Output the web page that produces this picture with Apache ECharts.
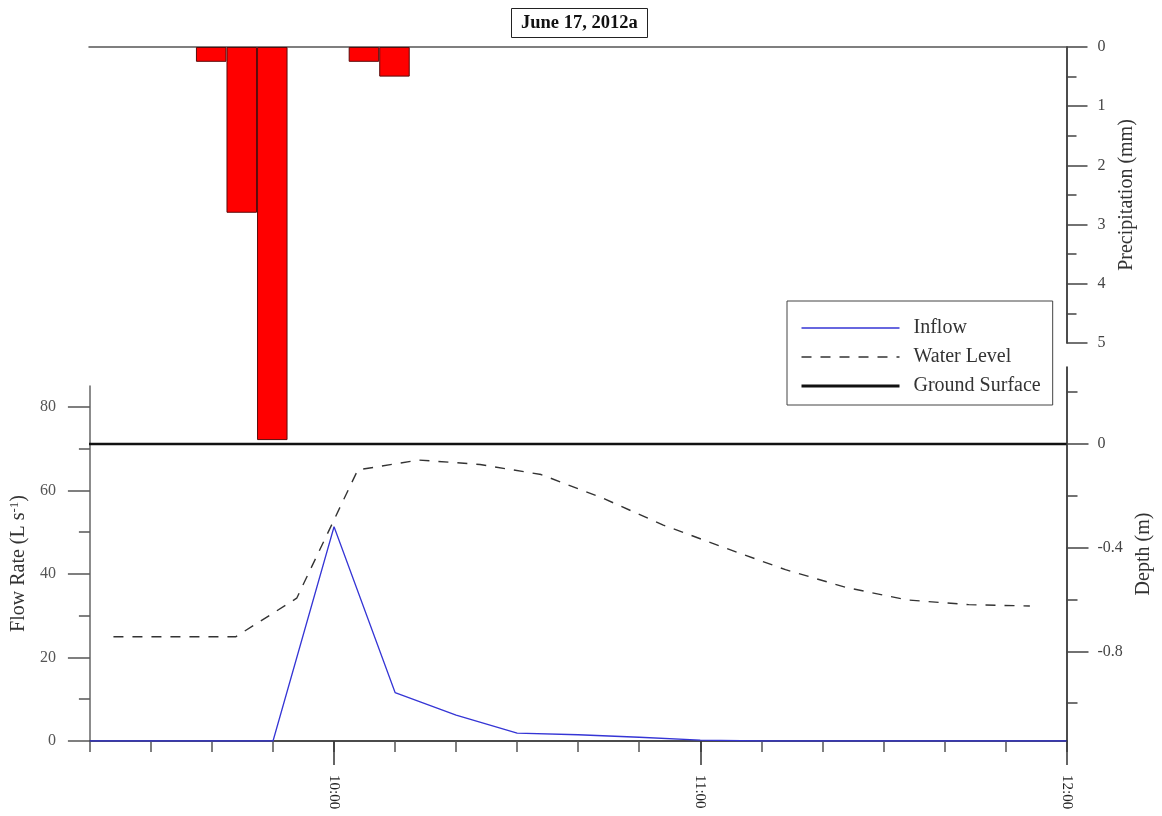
<!DOCTYPE html>
<html>
<head>
<meta charset="utf-8">
<script src="https://cdn.jsdelivr.net/npm/echarts@6/dist/echarts.min.js"></script>
<style>
html,body{margin:0;padding:0;background:#fff;}
#chart{width:1162px;height:816px;}
</style>
</head>
<body>
<div id="chart"></div>
<script>
// ---- data ----
const titleText = 'June 17, 2012a';
const precipTimes = ['9:40', '9:45', '9:50', '10:05', '10:10'];
const precipValues = [0.25, 2.8, 6.64, 0.25, 0.5];

const inflowTimes = ['9:20','9:30','9:40','9:50','10:00','10:10','10:20','10:30','10:40','10:50','11:00','11:10','11:20','11:30','11:40','11:50','12:00'];
const inflowValues = [0, 0, 0, 0, 51.3, 11.6, 6.2, 1.9, 1.5, 0.9, 0.2, 0, 0, 0, 0, 0, 0];

const waterTimes = ['9:24','9:34','9:44','9:54','10:04','10:14','10:24','10:34','10:44','10:54','11:04','11:14','11:24','11:34','11:44','11:54'];
const waterValues = [-0.744, -0.744, -0.744, -0.595, -0.100, -0.062, -0.079, -0.118, -0.208, -0.313, -0.400, -0.485, -0.554, -0.602, -0.620, -0.625];

const groundTimes = ['9:20', '12:00'];
const groundValues = [0, 0];

const xMajorTicks = ['10:00', '11:00', '12:00'];
const xMinorTicks = ['9:20','9:30','9:40','9:50','10:00','10:10','10:20','10:30','10:40','10:50','11:00','11:10','11:20','11:30','11:40','11:50','12:00'];
const xRange = ['9:20', '12:00'];

const precipMajor = [0, 1, 2, 3, 4, 5];
const precipMinor = [0.5, 1.5, 2.5, 3.5, 4.5];
const precipRange = [0, 5];

const flowMajor = [0, 20, 40, 60, 80];
const flowMinor = [10, 30, 50, 70];
const flowRange = [0, 85];

const depthMajor = [0, -0.4, -0.8];
const depthMinor = [0.2, -0.2, -0.6, -1.0];
const depthRange = [-1.146, 0.297];

// ---- helpers ----
function toMin(s) { const p = s.split(':'); return (+p[0]) * 60 + (+p[1]); }
function fmtTime(v) { const h = Math.floor(v / 60), m = Math.round(v - h * 60); return h + ':' + (m < 10 ? '0' + m : m); }
function pairs(ts, vs) { return ts.map((t, i) => [toMin(t), vs[i]]); }

const FONT = 'Liberation Serif';
const xMin = toMin(xRange[0]), xMax = toMin(xRange[1]);
const L = 89, R = 1162 - 1066.5;

const chart = echarts.init(document.getElementById('chart'), null, { renderer: 'canvas' });

const hiddenAxisBits = { axisLabel: { show: false }, axisTick: { show: false }, splitLine: { show: false }, axisLine: { show: false } };

const option = {
  backgroundColor: '#fff',
  animation: false,
  title: {
    text: titleText,
    left: 511,
    top: 8,
    padding: [6, 10, 5, 10],
    borderColor: '#222',
    borderWidth: 1,
    textStyle: { fontFamily: FONT, fontWeight: 'bold', fontSize: 18.5, color: '#111' }
  },
  legend: {
    orient: 'vertical',
    left: 787,
    top: 301,
    backgroundColor: '#fff',
    borderColor: '#444',
    borderWidth: 1,
    padding: [17, 12, 9, 13],
    itemWidth: 98,
    itemHeight: 14,
    itemGap: 9,
    itemStyle: { opacity: 0 },
    textStyle: { fontFamily: FONT, fontSize: 20, color: '#333', padding: [0, 0, 0, 9] },
    data: [
      { name: 'Inflow', lineStyle: { width: 1.3 } },
      { name: 'Water Level', lineStyle: { width: 1.4 } },
      { name: 'Ground Surface', lineStyle: { width: 3 } }
    ]
  },
  grid: [
    { left: L, right: R, top: 47, height: 296, containLabel: false },
    { left: L, right: R, top: 386, bottom: 75, containLabel: false },
    { left: L, right: R, top: 367, bottom: 75, containLabel: false }
  ],
  xAxis: [
    { gridIndex: 0, type: 'value', min: xMin, max: xMax, position: 'top',
      axisLine: { show: true, onZero: false, lineStyle: { color: '#555', width: 1.5 } },
      axisTick: { show: false }, axisLabel: { show: false }, splitLine: { show: false } },
    { gridIndex: 1, type: 'value', min: xMin, max: xMax, position: 'bottom',
      axisLine: { show: true, onZero: false, lineStyle: { color: '#111', width: 1.5 } },
      axisTick: { show: true, length: 11, customValues: xMinorTicks.map(toMin), lineStyle: { color: '#555', width: 1.5 } },
      axisLabel: { show: false }, splitLine: { show: false } },
    { gridIndex: 1, type: 'value', min: xMin, max: xMax, position: 'bottom',
      axisLine: { show: false, onZero: false },
      axisTick: { show: true, length: 24, customValues: xMajorTicks.map(toMin), lineStyle: { color: '#333', width: 1.5 } },
      axisLabel: { show: true, customValues: xMajorTicks.map(toMin), rotate: -90, margin: 34,
        formatter: v => fmtTime(v), fontFamily: FONT, fontSize: 15, color: '#222' },
      splitLine: { show: false } },
    Object.assign({ gridIndex: 2, type: 'value', min: xMin, max: xMax }, hiddenAxisBits)
  ],
  yAxis: [
    { gridIndex: 0, type: 'value', position: 'right', inverse: true, min: precipRange[0], max: precipRange[1],
      name: 'Precipitation (mm)', nameLocation: 'middle', nameGap: 49, nameRotate: 90,
      nameTextStyle: { fontFamily: FONT, fontSize: 20, color: '#333' },
      axisLine: { show: true, lineStyle: { color: '#111', width: 1.5 } },
      axisTick: { show: true, length: 21, customValues: precipMajor, lineStyle: { color: '#444', width: 1.5 } },
      axisLabel: { show: true, customValues: precipMajor, margin: 31, fontFamily: FONT, fontSize: 16, color: '#444' },
      splitLine: { show: false } },
    { gridIndex: 0, type: 'value', position: 'right', inverse: true, min: precipRange[0], max: precipRange[1],
      axisLine: { show: false },
      axisTick: { show: true, length: 10, customValues: precipMinor, lineStyle: { color: '#444', width: 1.5 } },
      axisLabel: { show: false }, splitLine: { show: false } },
    { gridIndex: 1, type: 'value', position: 'left', min: flowRange[0], max: flowRange[1],
      name: 'Flow Rate (L s{sup|-1})', nameLocation: 'middle', nameGap: 54, nameRotate: 90,
      nameTextStyle: { fontFamily: FONT, fontSize: 20, color: '#333',
        rich: { sup: { fontFamily: FONT, fontSize: 13, color: '#333', verticalAlign: 'top', padding: [0, 0, 9, 0] } } },
      axisLine: { show: true, lineStyle: { color: '#666', width: 1.5 } },
      axisTick: { show: true, length: 22, customValues: flowMajor, lineStyle: { color: '#555', width: 1.5 } },
      axisLabel: { show: true, customValues: flowMajor, margin: 34, fontFamily: FONT, fontSize: 16, color: '#555' },
      splitLine: { show: false } },
    { gridIndex: 1, type: 'value', position: 'left', min: flowRange[0], max: flowRange[1],
      axisLine: { show: false },
      axisTick: { show: true, length: 11, customValues: flowMinor, lineStyle: { color: '#555', width: 1.5 } },
      axisLabel: { show: false }, splitLine: { show: false } },
    { gridIndex: 2, type: 'value', position: 'right', min: depthRange[0], max: depthRange[1],
      name: 'Depth (m)', nameLocation: 'middle', nameGap: 64, nameRotate: 90,
      nameTextStyle: { fontFamily: FONT, fontSize: 20, color: '#333' },
      axisLine: { show: true, onZero: false, lineStyle: { color: '#111', width: 1.5 } },
      axisTick: { show: true, length: 22, customValues: depthMajor, lineStyle: { color: '#444', width: 1.5 } },
      axisLabel: { show: true, customValues: depthMajor, margin: 31, fontFamily: FONT, fontSize: 16, color: '#444',
        formatter: v => (Math.abs(v) < 1e-9 ? '0' : String(Math.round(v * 10) / 10)) },
      splitLine: { show: false } },
    { gridIndex: 2, type: 'value', position: 'right', min: depthRange[0], max: depthRange[1],
      axisLine: { show: false },
      axisTick: { show: true, length: 11, customValues: depthMinor, lineStyle: { color: '#444', width: 1.5 } },
      axisLabel: { show: false }, splitLine: { show: false } }
  ],
  series: [
    { name: 'Precipitation', type: 'bar', xAxisIndex: 0, yAxisIndex: 0, clip: false,
      barWidth: 30.5, data: pairs(precipTimes, precipValues),
      itemStyle: { color: '#ff0000', borderColor: '#5a0a0a', borderWidth: 1 }, z: 5 },
    { name: 'Inflow', type: 'line', xAxisIndex: 1, yAxisIndex: 2, symbol: 'none', showSymbol: false,
      data: pairs(inflowTimes, inflowValues),
      lineStyle: { color: '#3535d5', width: 1.3 }, itemStyle: { color: '#3535d5' }, z: 4 },
    { name: 'Water Level', type: 'line', xAxisIndex: 3, yAxisIndex: 4, symbol: 'none', showSymbol: false,
      data: pairs(waterTimes, waterValues),
      lineStyle: { color: '#333', width: 1.4, type: [10, 9] }, itemStyle: { color: '#333' }, z: 3 },
    { name: 'Ground Surface', type: 'line', xAxisIndex: 3, yAxisIndex: 4, symbol: 'none', showSymbol: false,
      data: pairs(groundTimes, groundValues),
      lineStyle: { color: '#111', width: 2.5 }, itemStyle: { color: '#111' }, z: 3 }
  ]
};
chart.setOption(option);
</script>
</body>
</html>
